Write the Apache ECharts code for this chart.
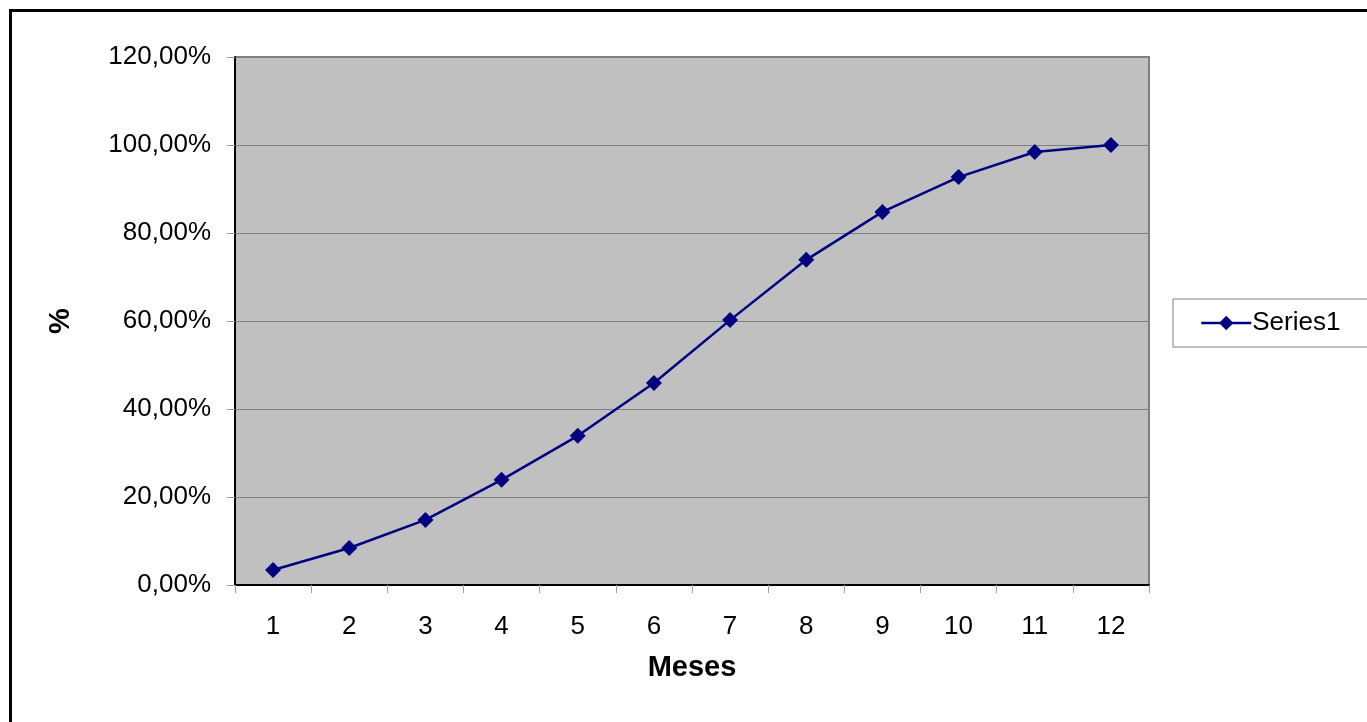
<!DOCTYPE html>
<html>
<head>
<meta charset="utf-8">
<script src="https://cdn.jsdelivr.net/npm/echarts@6/dist/echarts.min.js"></script>
<style>
  html, body { margin: 0; padding: 0; background: #fff; }
  #chart { width: 1367px; height: 722px; }
</style>
</head>
<body>
<div id="chart"></div>
<script>
const months = ['1', '2', '3', '4', '5', '6', '7', '8', '9', '10', '11', '12']
const series1 = [3.4, 8.4, 14.8, 23.9, 33.9, 45.9, 60.2, 73.9, 84.8, 92.7, 98.4, 100]
const yTicks = { min: 0, max: 120, interval: 20 }

const chart = echarts.init(document.getElementById('chart'))

const fmt = v => v.toFixed(2).replace('.', ',') + '%'

chart.setOption({
  animation: false,
  textStyle: { fontFamily: 'Liberation Sans, Arial, sans-serif' },
  graphic: [
    {
      type: 'rect',
      left: 8, top: 8,
      shape: { width: 1500, height: 900 },
      style: { fill: 'none', stroke: '#000', lineWidth: 3 },
      z: -10
    }
  ],
  grid: {
    left: 235, top: 57, width: 914, height: 528,
    show: true,
    backgroundColor: '#c0c0c0',
    borderColor: '#808080',
    borderWidth: 2
  },
  legend: {
    left: 1173, top: 299,
    orient: 'vertical',
    data: ['Series1'],
    itemWidth: 50,
    itemHeight: 18,
    itemGap: 0,
    padding: [11, 160, 11, 27],
    borderColor: '#808080',
    borderWidth: 1,
    backgroundColor: '#fff',
    lineStyle: { width: 2.5 },
    textStyle: { fontSize: 26, color: '#000', padding: [0, 0, 0, -4] }
  },
  xAxis: {
    type: 'category',
    data: months,
    boundaryGap: true,
    name: 'Meses',
    nameLocation: 'middle',
    nameGap: 68,
    nameTextStyle: { fontSize: 29, fontWeight: 'bold', color: '#000' },
    axisLine: { lineStyle: { color: '#000', width: 2 } },
    axisTick: { show: true, length: 8, lineStyle: { color: '#a0a0a0' } },
    axisLabel: { fontSize: 26, color: '#000', margin: 29 },
    splitLine: { show: false }
  },
  yAxis: {
    type: 'value',
    min: yTicks.min,
    max: yTicks.max,
    interval: yTicks.interval,
    name: '%',
    nameLocation: 'middle',
    nameGap: 160,
    nameTextStyle: { fontSize: 29, fontWeight: 'bold', color: '#000' },
    axisLine: { show: true, lineStyle: { color: '#000', width: 2 } },
    axisTick: { show: true, length: 8, lineStyle: { color: '#a0a0a0' } },
    axisLabel: { fontSize: 26, color: '#000', margin: 24, formatter: fmt },
    splitLine: { show: true, lineStyle: { color: '#808080', width: 1 } }
  },
  series: [
    {
      name: 'Series1',
      type: 'line',
      data: series1,
      symbol: 'diamond',
      symbolSize: 16,
      color: '#000080',
      lineStyle: { color: '#000080', width: 2.5 },
      itemStyle: { color: '#000080' }
    }
  ]
})
</script>
</body>
</html>
